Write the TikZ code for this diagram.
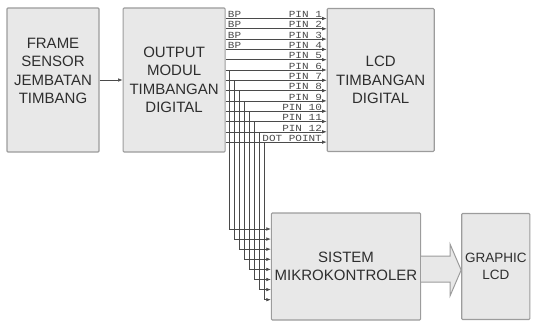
\documentclass[tikz,border=0pt]{standalone}
\usepackage{fontspec}
\setmainfont{Liberation Sans}
\newfontfamily\pinfont{Liberation Mono}
\usetikzlibrary{arrows.meta,positioning}
\definecolor{boxfill}{HTML}{E8E8E8}
\definecolor{boxline}{HTML}{9C9C9C}
\definecolor{txtcol}{HTML}{2E2E2E}
\definecolor{wirecol}{HTML}{4A4A4A}
\newcommand{\pinlbl}[1]{\scalebox{1}[0.85]{\pinfont #1}}

\begin{document}
\begin{tikzpicture}[
  x=1pt, y=-1pt,
  blok/.style={draw=boxline, line width=1.1pt, fill=boxfill, rounded corners=1pt,
    align=center, text=txtcol, font=\fontsize{15}{18.5}\selectfont},
  wire/.style={draw=wirecol, line width=0.6pt},
  arr/.style={wire, -{Latex[length=4.5pt,width=3.5pt]}},
  lbl/.style={inner sep=0.6pt, text=wirecol, font=\fontsize{11}{11}\selectfont},
  fatarrow/.style={draw=boxline, line width=1pt, fill=boxfill, line join=miter}
]
  \useasboundingbox (0,0) rectangle (534,321);

  \node[blok, minimum width=92pt, minimum height=144pt] (frame) at (53,80)
    {FRAME\\SENSOR\\JEMBATAN\\TIMBANG\\\mbox{}};
  \node[blok, minimum width=102pt, minimum height=144pt, right=23pt of frame] (out)
    {OUTPUT\\MODUL\\TIMBANGAN\\DIGITAL};
  \node[blok, minimum width=107pt, minimum height=143pt, right=101pt of out] (lcd)
    {LCD\\TIMBANGAN\\DIGITAL};
  \node[blok, minimum width=148pt, minimum height=107pt] (sis) at (346,266.5)
    {SISTEM\\MIKROKONTROLER};
  \node[blok, minimum width=68pt, minimum height=106pt, right=40pt of sis,
    font=\fontsize{13.5}{17}\selectfont] (glcd)
    {GRAPHIC\\LCD};

  \draw[arr] (frame) -- (out.west |- frame);

  % lines to the lcd
  \foreach \k in {1,...,13} {
    \coordinate (row\k) at (0,{18.5+(\k-1)*10.3});
    \draw[arr] (out.east |- row\k) -- (lcd.west |- row\k);
  }
  \foreach \k in {1,...,4}
    \node[lbl, anchor=south west] (bp\k) at ([xshift=1.5pt]out.east |- row\k) {\pinlbl{BP}};
  \foreach \k in {1,...,12}
    \node[lbl, anchor=south east] (pin\k) at ([xshift=-4pt]lcd.west |- row\k) {\pinlbl{PIN \k}};
  \node[lbl, anchor=south east] (dot) at ([xshift=-4pt]lcd.west |- row13) {\pinlbl{DOT POINT}};

  % taps down to the mikrokontroler
  \foreach \i in {0,...,7} {
    \pgfmathtruncatemacro{\k}{6+\i}
    \coordinate (tap\i) at ([xshift={4+5*\i}]out.east |- row\k);
    \coordinate (in\i) at (0,{229+10.1*\i});
    \draw[arr] (tap\i) |- (sis.west |- in\i);
  }

  % block arrow
  \draw[fatarrow] (sis.east |- 0,256) -- (450,256) -- (450,244) -- (glcd.west |- 0,270)
    -- (450,296) -- (450,282) -- (sis.east |- 0,282);
\end{tikzpicture}
\end{document}
